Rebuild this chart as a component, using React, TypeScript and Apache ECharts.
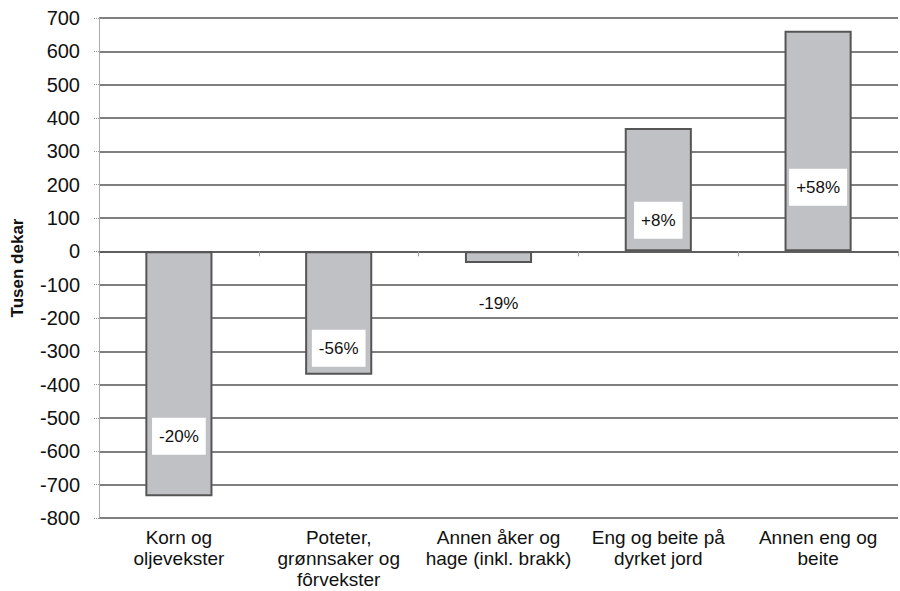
import React, { useEffect, useRef } from "react";
import * as echarts from "echarts";

const categories = [
  "Korn og\noljevekster",
  "Poteter,\ngrønnsaker og\nfôrvekster",
  "Annen åker og\nhage (inkl. brakk)",
  "Eng og beite på\ndyrket jord",
  "Annen eng og\nbeite",
];
const changeValues = [-735, -370, -35, 370, 662];
const pctLabels = ["-20%", "-56%", "-19%", "+8%", "+58%"];
const pctLabelY = [-555, -291, -155, 93, 192];
const pctBoxed = [true, true, false, true, true];

export default function App() {
  const ref = useRef<HTMLDivElement>(null);
  useEffect(() => {
    if (!ref.current) return;
    const chart = echarts.init(ref.current, null, { renderer: "svg" });
    const font = "'Liberation Sans', Arial, sans-serif";
    chart.setOption({
      animation: false,
      backgroundColor: "#ffffff",
      grid: {
        left: 99,
        right: 2,
        top: 18,
        bottom: 73,
        containLabel: false,
        outerBoundsMode: "none",
      },
      xAxis: [
        {
          type: "category",
          data: categories,
          axisLine: { show: true, onZero: true, lineStyle: { color: "#555", width: 1.5 } },
          axisTick: { show: true, length: 5, lineStyle: { color: "#999", width: 1 } },
          axisLabel: { show: false },
        },
        {
          type: "category",
          data: categories,
          position: "bottom",
          axisLine: { show: false, onZero: false },
          axisTick: { show: false },
          axisLabel: {
            show: true,
            color: "#111",
            fontFamily: font,
            fontSize: 19,
            lineHeight: 21,
            margin: 9,
            interval: 0,
          },
        },
      ],
      yAxis: {
        type: "value",
        min: -800,
        max: 700,
        interval: 100,
        name: "Tusen dekar",
        nameLocation: "middle",
        nameGap: 73,
        nameTextStyle: { fontFamily: font, fontSize: 17, fontWeight: "bold", color: "#111" },
        axisLine: { show: true, lineStyle: { color: "#aaa", width: 1 } },
        axisTick: { show: true, length: 6, lineStyle: { color: "#999", type: "dotted" } },
        axisLabel: { color: "#111", fontFamily: font, fontSize: 20, margin: 19 },
        splitLine: { show: true, lineStyle: { color: "#555", width: 1.5 } },
      },
      series: [
        {
          type: "bar",
          xAxisIndex: 0,
          data: changeValues,
          barWidth: "42%",
          itemStyle: { color: "#c0c1c4", borderColor: "#555", borderWidth: 2 },
        },
        {
          type: "scatter",
          xAxisIndex: 0,
          symbolSize: 0,
          itemStyle: { opacity: 1 },
          data: pctLabelY.map((v, i) => ({
            value: v,
            label: {
              backgroundColor: pctBoxed[i] ? "#ffffff" : "transparent",
            },
          })),
          label: {
            show: true,
            position: "inside",
            formatter: (p: any) => pctLabels[p.dataIndex],
            color: "#111",
            fontFamily: font,
            fontSize: 17,
            padding: [10, 7],
            backgroundColor: "#ffffff",
            opacity: 1,
          },
          z: 5,
        },
      ],
    });
    return () => chart.dispose();
  }, []);
  return (
    <div
      ref={ref}
      style={{ position: "fixed", left: 0, top: 0, width: 900, height: 591, background: "#fff" }}
    />
  );
}
